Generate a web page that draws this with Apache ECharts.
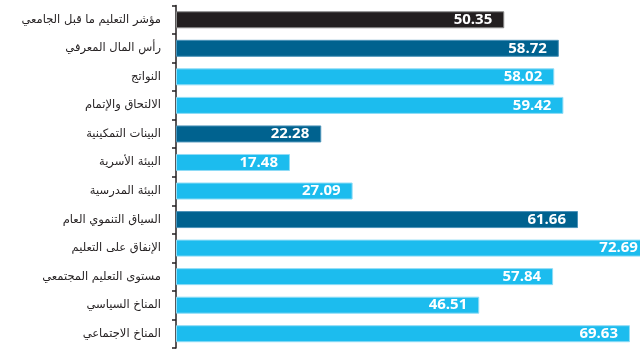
<!DOCTYPE html>
<html>
<head>
<meta charset="utf-8">
<script src="https://cdn.jsdelivr.net/npm/echarts@6/dist/echarts.min.js"></script>
<style>
html,body{margin:0;padding:0;background:#fff;}
#chart{width:640px;height:349px;}
</style>
</head>
<body>
<div id="chart"></div>
<script>
const categories = [
  "مؤشر التعليم ما قبل الجامعي",
  "رأس المال المعرفي",
  "النواتج",
  "الالتحاق والإتمام",
  "البينات التمكينية",
  "البيئة الأسرية",
  "البيئة المدرسية",
  "السياق التنموي العام",
  "الإنفاق على التعليم",
  "مستوى التعليم المجتمعي",
  "المناخ السياسي",
  "المناخ الاجتماعي"
];
const values = [50.35, 58.72, 58.02, 59.42, 22.28, 17.48, 27.09, 61.66, 72.69, 57.84, 46.51, 69.63];
// level: 0 = overall index, 1 = sub-index, 2 = pillar
const levels = [0, 1, 2, 2, 1, 2, 2, 1, 2, 2, 2, 2];

const fills = ["#231f20", "#00628f", "#1cbcee"];
const borders = ["#8a8a8a", "#4b93b8", "#8edcf6"];

const chart = echarts.init(document.getElementById('chart'), null, {renderer: 'canvas'});
chart.setOption({
  animation: false,
  backgroundColor: '#ffffff',
  grid: {left: 176, right: 0, top: 5.5, bottom: 1, containLabel: false},
  xAxis: {
    type: 'value', min: 0, max: 71.17, show: false
  },
  yAxis: {
    type: 'category',
    data: categories,
    inverse: true,
    axisLine: {show: true, lineStyle: {color: '#231f20', width: 1.5}},
    axisTick: {show: true, length: 4, lineStyle: {color: '#231f20', width: 1.5}},
    axisLabel: {
      margin: 15,
      color: '#231f20',
      fontSize: 11.5,
      fontFamily: '"DejaVu Sans", sans-serif'
    }
  },
  series: [{
    type: 'bar',
    barWidth: 17,
    clip: false,
    data: values.map((v, i) => ({
      value: v,
      itemStyle: {color: fills[levels[i]], borderColor: borders[levels[i]], borderWidth: 1}
    })),
    label: {
      show: true,
      position: 'insideRight',
      distance: 12,
      color: '#ffffff',
      fontWeight: 'bold',
      fontSize: 15,
      fontFamily: '"Open Sans", sans-serif',
      formatter: p => p.value.toFixed(2)
    }
  }]
});
</script>
</body>
</html>
